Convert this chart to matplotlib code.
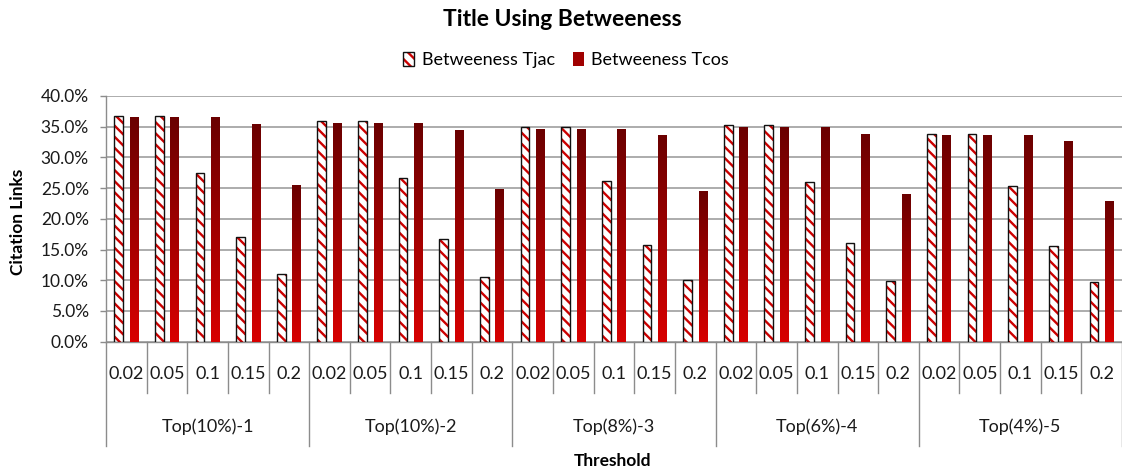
import numpy as np
import matplotlib
matplotlib.use("Agg")
import matplotlib.pyplot as plt
import matplotlib.transforms as mtransforms
from matplotlib.colors import LinearSegmentedColormap
from matplotlib.patches import Patch
from matplotlib.legend_handler import HandlerTuple

# ---- data -------------------------------------------------------------
groups = ["Top(10%)-1", "Top(10%)-2", "Top(8%)-3", "Top(6%)-4", "Top(4%)-5"]
thresholds = ["0.02", "0.05", "0.1", "0.15", "0.2"]

# citation links (%) per threshold, group by group
tjac = [36.8, 36.8, 27.4, 17.1, 11.1,
        35.9, 35.9, 26.7, 16.7, 10.5,
        34.9, 34.9, 26.2, 15.8, 10.0,
        35.2, 35.2, 26.0, 16.0, 9.9,
        33.8, 33.8, 25.3, 15.5, 9.8]
tcos = [36.5, 36.5, 36.5, 35.4, 25.5,
        35.6, 35.6, 35.6, 34.4, 24.8,
        34.7, 34.7, 34.7, 33.7, 24.5,
        34.9, 34.9, 34.9, 33.8, 24.1,
        33.7, 33.7, 33.7, 32.6, 22.9]
y_ticks = [0, 5, 10, 15, 20, 25, 30, 35, 40]

series_names = ["Betweeness Tjac", "Betweeness Tcos"]
title = "Title Using Betweeness"
y_label = "Citation Links"
x_label = "Threshold"

# ---- style ------------------------------------------------------------
plt.rcParams["font.family"] = ["Lato", "DejaVu Sans"]
plt.rcParams["hatch.linewidth"] = 1.7

RED = "#cc0000"
AXIS_GRAY = "#8c8c8c"
GRID_GRAY = "#a6a6a6"
TEXT = "#1a1a1a"

W, H = 1122, 472
fig = plt.figure(figsize=(W / 100, H / 100), dpi=100)
ax = fig.add_axes([106 / W, 1 - 341.7 / H, (W - 106) / W, (341.7 - 96) / H])

n_cat = len(groups) * len(thresholds)
x = np.arange(n_cat)
bar_w = 0.215
off = 0.19

# hatched series: red stripes on white with a thin dark outline
ax.bar(x - off, tjac, bar_w, facecolor="white", edgecolor=RED,
       hatch="\\\\\\", linewidth=0, zorder=3)
ax.bar(x - off, tjac, bar_w, fill=False, edgecolor="#111111",
       linewidth=1.0, zorder=4)

# gradient series: dark maroon at the top fading to bright red at the base
cmap = LinearSegmentedColormap.from_list("redgrad", ["#d80000", "#6a0000"])
grad = np.linspace(0, 1, 256).reshape(-1, 1)
cos_bars = ax.bar(x + off, tcos, bar_w, facecolor="#a00000",
                  edgecolor="none", zorder=3)
for b in cos_bars:
    x0, y0 = b.get_x(), b.get_y()
    im = ax.imshow(grad, cmap=cmap, origin="lower", aspect="auto",
                   interpolation="bilinear",
                   extent=(x0, x0 + b.get_width(), y0, y0 + b.get_height()),
                   zorder=3.5)
    im.set_clip_path(b)

ax.set_xlim(-0.5, n_cat - 0.5)
ax.set_ylim(y_ticks[0], y_ticks[-1])

# ---- axes -------------------------------------------------------------
ax.set_yticks(y_ticks)
ax.yaxis.set_major_formatter(lambda v, p: f"{v:.1f}%")
ax.tick_params(axis="y", length=4.3, width=1, color=AXIS_GRAY, pad=8,
               labelsize=12.5, labelcolor=TEXT)
ax.set_xticks([])
ax.yaxis.grid(True, color=GRID_GRAY, linewidth=1.3)
ax.set_axisbelow(True)
for side in ("top", "right"):
    ax.spines[side].set_visible(False)
for side in ("left", "bottom"):
    ax.spines[side].set_color(AXIS_GRAY)
    ax.spines[side].set_linewidth(1.0)

# two-level category axis
trans = mtransforms.blended_transform_factory(ax.transData, ax.transAxes)
n_th = len(thresholds)
for i in range(n_cat):
    ax.text(x[i], -0.132, thresholds[i % n_th], transform=trans,
            ha="center", va="center", fontsize=13, color=TEXT)
for i in range(1, n_cat):
    if i % n_th:
        ax.plot([i - 0.5, i - 0.5], [0, -0.209], transform=trans,
                clip_on=False, color=AXIS_GRAY, linewidth=1.0)
for g in range(len(groups) + 1):
    xb = g * n_th - 0.5
    ax.plot([xb, xb], [0, -0.425], transform=trans, clip_on=False,
            color=AXIS_GRAY, linewidth=1.0)
for g, name in enumerate(groups):
    ax.text(g * n_th + (n_th - 1) / 2, -0.347, name, transform=trans,
            ha="center", va="center", fontsize=13, color=TEXT)

# ---- titles & legend --------------------------------------------------
fig.text(562 / W, 1 - 19 / H, title, ha="center", va="center",
         fontsize=16.5, fontweight="bold", color="black")
fig.text(18 / W, 1 - 222 / H, y_label, ha="center", va="center",
         rotation=90, fontsize=12.5, fontweight="bold", color="black")
fig.text(613 / W, 1 - 461 / H, x_label, ha="center", va="center",
         fontsize=12.5, fontweight="bold", color="black")

h_jac = (Patch(facecolor="white", edgecolor=RED, hatch="\\\\\\", linewidth=0),
         Patch(fill=False, edgecolor="#111111", linewidth=1.0))
h_cos = Patch(facecolor="#a00000", edgecolor="none")
fig.legend([h_jac, h_cos], series_names, loc="center",
           bbox_to_anchor=(566 / W, 1 - 60 / H), ncol=2, frameon=False,
           handlelength=0.6, handleheight=0.85, handletextpad=0.4,
           columnspacing=1.0, fontsize=13,
           handler_map={tuple: HandlerTuple(ndivide=1, pad=0)})

fig.savefig("out.png", dpi=100)
